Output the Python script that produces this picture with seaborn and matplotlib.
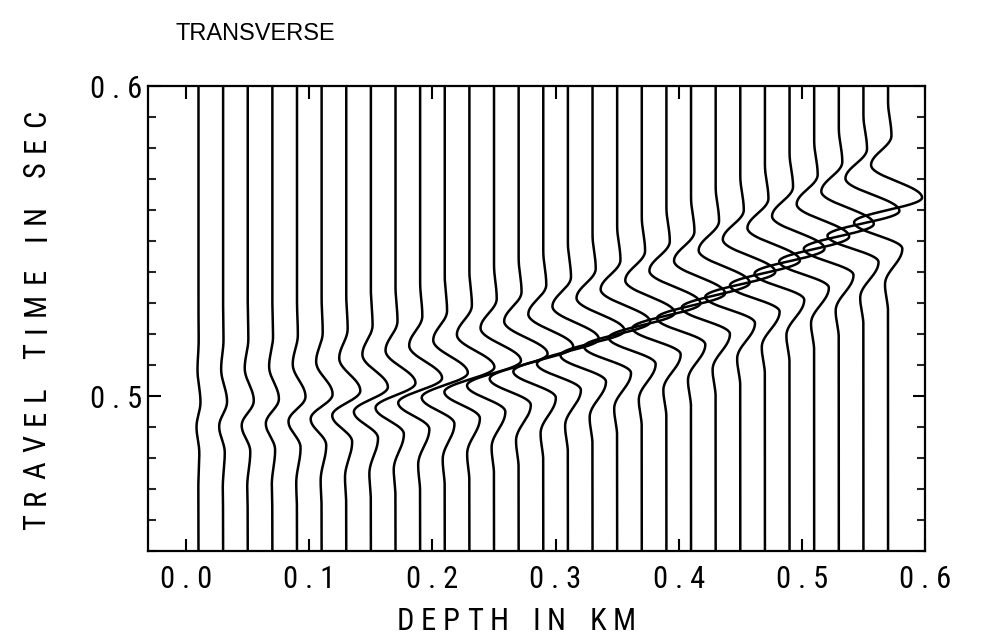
import numpy as np
import pandas as pd
import matplotlib
matplotlib.use("Agg")
import matplotlib.pyplot as plt
from matplotlib import font_manager
import seaborn as sns

# ---- data ----
depths = [0.01, 0.03, 0.05, 0.07, 0.09, 0.11, 0.13, 0.15, 0.17, 0.19,
          0.21, 0.23, 0.25, 0.27, 0.29, 0.31, 0.33, 0.35, 0.37, 0.39,
          0.41, 0.43, 0.45, 0.47, 0.49, 0.51, 0.53, 0.55, 0.57]
# time of the main (right-swinging) peak on every trace, s
peak_times = [0.4980, 0.4982, 0.4985, 0.4991, 0.4998, 0.5006, 0.5017, 0.5029,
              0.5042, 0.5058, 0.5075, 0.5093, 0.5114, 0.5136, 0.5159, 0.5184,
              0.5211, 0.5239, 0.5268, 0.5299, 0.5331, 0.5365, 0.5400, 0.5437,
              0.5475, 0.5514, 0.5555, 0.5597, 0.5640]
# size of the main peak on every trace, km of the depth axis
peak_amps = [0.0016, 0.0032, 0.0049, 0.0053, 0.0069, 0.0089, 0.0114, 0.0138,
             0.0162, 0.0178, 0.0187, 0.0203, 0.0219, 0.0235, 0.0243, 0.0251,
             0.0260, 0.0268, 0.0268, 0.0276, 0.0276, 0.0276, 0.0284, 0.0284,
             0.0284, 0.0284, 0.0284, 0.0292, 0.0276]
# wavelet lobes (time from main peak, s ; relative size)
lobe_times = [-0.037, -0.028, -0.0165, -0.008, 0.0, 0.0105, 0.020, 0.031]
lobe_sizes = [0.0, -0.09, 0.42, -1.0, 1.0, -0.5, 0.10, 0.0]

x_ticks = [0.0, 0.1, 0.2, 0.3, 0.4, 0.5, 0.6]
x_ticklabels = ["0 . 0", "0 . 1", "0 . 2", "0 . 3", "0 . 4", "0 . 5", "0 . 6"]
y_ticks = [0.5, 0.6]
y_ticklabels = ["0 . 5", "0 . 6"]
x_title = "DEPTH IN KM"
y_title = "TRAVEL TIME IN SEC"
chart_title = "TRANSVERSE"


def wavelet(tau):
    out = np.zeros_like(tau)
    for i in range(len(lobe_times) - 1):
        t0, t1 = lobe_times[i], lobe_times[i + 1]
        a0, a1 = lobe_sizes[i], lobe_sizes[i + 1]
        m = (tau >= t0) & (tau < t1)
        s = (tau[m] - t0) / (t1 - t0)
        out[m] = a0 + (a1 - a0) * (1 - np.cos(np.pi * s)) / 2
    return out


t = np.linspace(0.45, 0.6, 1501)
rows = []
for k, (d, tp, a) in enumerate(zip(depths, peak_times, peak_amps)):
    xv = d + a * wavelet(t - tp)
    rows.append(pd.DataFrame({"trace": k, "x": xv, "time": t}))
df = pd.concat(rows, ignore_index=True)

sns.set_theme(style="ticks")
plt.rcParams["font.family"] = ["Liberation Sans", "DejaVu Sans"]

# a condensed sans face if one is installed, else Liberation Sans
cond_path = None
pref = ["Liberation Sans Narrow", "Roboto Condensed", "Noto Sans", "DejaVu Sans", "Open Sans"]
for name in pref:
    for f in font_manager.fontManager.ttflist:
        st = str(f.stretch).lower()
        if f.name == name and f.style == "normal" and str(f.weight) in ("400", "normal", "regular") \
                and ("condensed" in st or "narrow" in f.fname.lower() or "condensed" in f.fname.lower()) \
                and "semi" not in st and "extra" not in st and "ultra" not in st:
            cond_path = f.fname
            break
    if cond_path:
        break


def label_prop(size):
    if cond_path:
        return font_manager.FontProperties(fname=cond_path, size=size)
    return font_manager.FontProperties(family="Liberation Sans", size=size)


fig = plt.figure(figsize=(9.82, 6.40), dpi=100)
ax = fig.add_axes([148 / 982, 1 - 551 / 640, (925 - 148) / 982, (551 - 86) / 640])

sns.lineplot(data=df, x="x", y="time", units="trace", estimator=None,
             orient="y", sort=False, color="black", lw=1.8, ax=ax)

ax.set_xlim(-0.031, 0.6)
ax.set_ylim(0.45, 0.6)
ax.set_xticks(x_ticks)
ax.set_xticklabels(x_ticklabels)
ax.set_yticks(y_ticks)
ax.set_yticklabels(y_ticklabels)
ax.set_yticks(np.arange(0.45, 0.601, 0.01), minor=True)
ax.tick_params(axis="both", which="major", direction="in", length=9, width=1.5,
               top=True, right=True, labelsize=21, color="black", labelcolor="black")
ax.tick_params(axis="x", which="major", pad=10)
ax.tick_params(axis="y", which="major", pad=4)
ax.tick_params(axis="y", which="minor", direction="in", length=6, width=1.5,
               left=True, right=True)
for lab in ax.get_xticklabels() + ax.get_yticklabels():
    lab.set_fontproperties(label_prop(22))
for sp in ax.spines.values():
    sp.set_linewidth(1.6)
    sp.set_color("black")
    sp.set_visible(True)
ax.set_xlabel("")
ax.set_ylabel("")

renderer = fig.canvas.get_renderer()


def char_width(ch, prop):
    tmp = fig.text(0, 0, ch, fontproperties=prop)
    w = tmp.get_window_extent(renderer).width
    tmp.remove()
    return w


def tracked(text, center, base, length, ratio, prop, vertical=False):
    """Write text letter by letter with wide letter spacing (like the reference)."""
    words = text.split(" ")
    widths = [[char_width(c, prop) for c in w] for w in words]
    ink = sum(sum(w) for w in widths)
    n_letter = sum(len(w) - 1 for w in words)
    n_word = len(words) - 1
    g = (length - ink) / (n_letter + ratio * n_word)
    pos = center - length / 2
    for wi, word in enumerate(words):
        for ci, ch in enumerate(word):
            if vertical:
                fig.text(base / 982, pos / 640, ch, fontproperties=prop, rotation=90,
                         rotation_mode="anchor", ha="left", va="baseline", color="black")
            else:
                fig.text(pos / 982, 1 - base / 640, ch, fontproperties=prop,
                         ha="left", va="baseline", color="black")
            pos += widths[wi][ci]
            if ci < len(word) - 1:
                pos += g
        pos += g * ratio


tracked(x_title, 516.5, 630, 239, 3.6, label_prop(22))
tracked(y_title, 640 - 320, 45, 420, 2.9, label_prop(22), vertical=True)

fig.text(175 / 982, 1 - 40 / 640, chart_title, ha="left", va="baseline",
         fontsize=17, color="black")

fig.savefig("out.png", dpi=100, facecolor="white")
